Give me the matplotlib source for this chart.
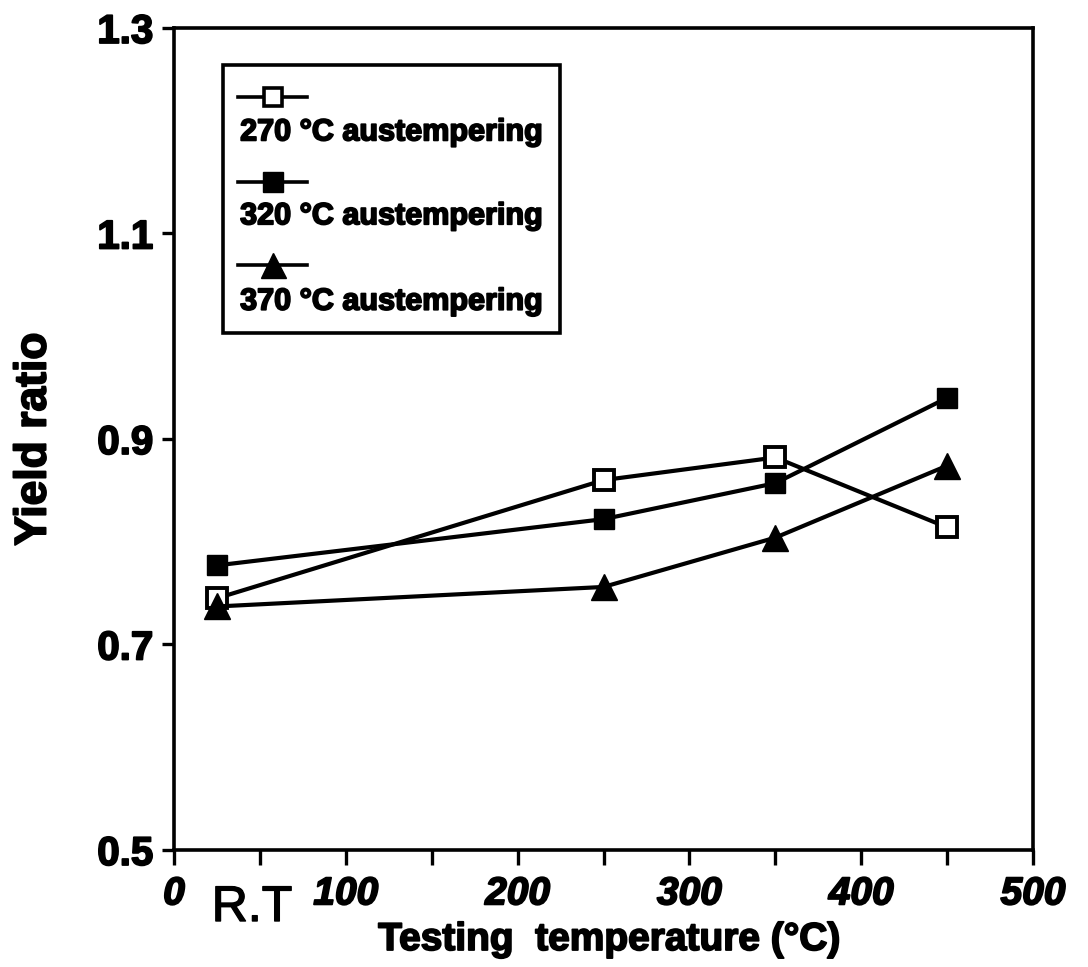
import matplotlib.pyplot as plt
import matplotlib.patheffects as pe
import numpy as np

# testing temperatures, R.T taken as 25 C
temps = [25, 250, 350, 450]

# yield ratio for each austempering temperature
yr_270 = [0.745, 0.860, 0.882, 0.814]
yr_320 = [0.777, 0.822, 0.857, 0.940]
yr_370 = [0.737, 0.756, 0.804, 0.874]

labels = ["270 °C austempering", "320 °C austempering", "370 °C austempering"]

plt.rcParams['font.family'] = ['Liberation Sans', 'DejaVu Sans']

# a thin stroke makes the bold text look like the heavy scanned type
heavy = [pe.withStroke(linewidth=1.3, foreground="black")]

fig = plt.figure(figsize=(10.88, 9.67), dpi=100)
ax = fig.add_axes([174 / 1088, 1 - 850 / 967, 859 / 1088, 822 / 967])

# the data lines
ax.plot(temps, yr_270, color="black", lw=3, marker="s", ms=14,
        mfc="white", mec="black", mew=2.8, zorder=3)
ax.plot(temps, yr_320, color="black", lw=3, marker="s", ms=15,
        mfc="black", mec="black", zorder=3)
ax.plot(temps, yr_370, color="black", lw=3, marker="^", ms=19,
        mfc="black", mec="black", zorder=3)

ax.set_xlim(0, 500)
ax.set_ylim(0.5, 1.3)
ax.set_xticks(np.arange(0, 501, 100))
ax.set_xticks(np.arange(50, 500, 100), minor=True)
ax.set_yticks([0.5, 0.7, 0.9, 1.1, 1.3])
ax.set_yticklabels(["0.5", "0.7", "0.9", "1.1", "1.3"])

for side in ax.spines.values():
    side.set_linewidth(2.6)

ax.tick_params(axis="x", which="both", direction="out", length=11, width=2.4,
               pad=8, labelsize=28)
ax.tick_params(axis="y", direction="out", length=9, width=2.4, pad=6,
               labelsize=29)
for t in ax.get_xticklabels():
    t.set_fontweight("bold")
    t.set_fontstyle("italic")
    t.set_path_effects(heavy)
for t in ax.get_yticklabels():
    t.set_fontweight("bold")
    t.set_path_effects(heavy)

ax.set_ylabel("Yield ratio", fontsize=32, fontweight="bold", path_effects=heavy)
ax.yaxis.set_label_coords(-0.139, 0.5)
fig.text(609 / 1088, 1 - 950 / 967, "Testing  temperature (°C)", ha="center",
         va="baseline", fontsize=28, fontweight="bold", path_effects=heavy)
fig.text(252 / 1088, 1 - 908 / 967, "R.T", ha="center", va="center",
         fontsize=36, path_effects=[pe.withStroke(linewidth=1.0, foreground="black")])

# legend drawn by hand: handle line above, label below
box = plt.Rectangle((0.057, 0.629), 0.392, 0.326, transform=ax.transAxes,
                    fill=False, lw=2.6, ec="black", zorder=4)
ax.add_patch(box)
handle_y = [0.916, 0.813, 0.712]
text_y = [0.873, 0.771, 0.667]
styles = [dict(marker="s", ms=13, mfc="white", mew=2.6),
          dict(marker="s", ms=14, mfc="black"),
          dict(marker="^", ms=18, mfc="black")]
for hy, ty, lab, st in zip(handle_y, text_y, labels, styles):
    ax.plot([0.0745, 0.155], [hy, hy], transform=ax.transAxes, color="black",
            lw=2.6, zorder=5)
    ax.plot([0.115], [hy], transform=ax.transAxes, color="black", mec="black",
            zorder=6, **st)
    ax.text(0.077, ty, lab, transform=ax.transAxes, ha="left", va="center",
            fontsize=22, fontweight="bold", zorder=6, path_effects=heavy)

fig.savefig("out.png", dpi=100)
